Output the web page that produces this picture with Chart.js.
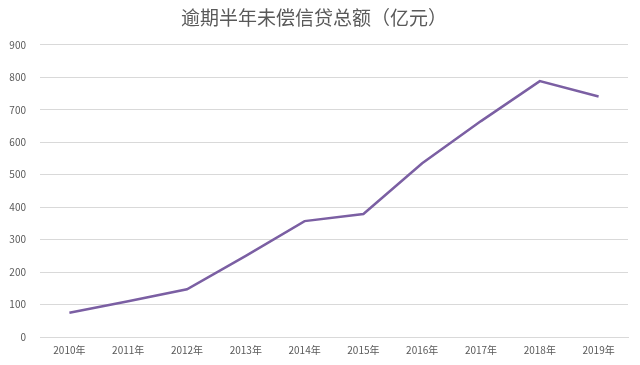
<!DOCTYPE html>
<html>
<head>
<meta charset="utf-8">
<script src="https://cdn.jsdelivr.net/npm/chart.js@4/dist/chart.umd.min.js"></script>
<style>
html,body{margin:0;padding:0;background:#fff;}
#wrap{width:640px;height:365px;}
</style>
</head>
<body>
<div id="wrap"><canvas id="c"></canvas></div>
<script>
const categories = ['2010年','2011年','2012年','2013年','2014年','2015年','2016年','2017年','2018年','2019年'];
const values = [75, 110, 147, 250, 357, 379, 535, 665, 788, 741];
const titleText = '逾期半年未偿信贷总额（亿元）';
const yTicks = {min: 0, max: 900, step: 100};

new Chart(document.getElementById('c'), {
  type: 'line',
  data: {
    labels: categories,
    datasets: [{
      data: values,
      borderColor: '#7b5fa3',
      borderWidth: 2.5,
      pointRadius: 0,
      tension: 0,
      fill: false
    }]
  },
  options: {
    responsive: true,
    maintainAspectRatio: false,
    animation: false,
    layout: {padding: {left: 0, right: 12, top: 0, bottom: 0}},
    plugins: {
      legend: {display: false},
      tooltip: {enabled: false},
      title: {
        display: true,
        text: titleText,
        color: '#595959',
        font: {family: '"Noto Sans CJK SC", sans-serif', size: 19, weight: 'normal', lineHeight: 1.2},
        padding: {top: 6, bottom: 16}
      }
    },
    scales: {
      x: {
        offset: true,
        grid: {display: false, drawTicks: false},
        border: {display: true, color: '#d9d9d9'},
        ticks: {color: '#595959', font: {family: '"Noto Sans CJK SC", sans-serif', size: 10}, padding: 7, maxRotation: 0, autoSkip: false},
        afterFit: s => { s.height = 28; }
      },
      y: {
        min: yTicks.min,
        max: yTicks.max,
        grid: {color: '#d9d9d9', drawTicks: false},
        border: {display: false},
        ticks: {stepSize: yTicks.step, color: '#595959', font: {family: '"Noto Sans CJK SC", sans-serif', size: 10}, padding: 14},
        afterFit: s => { s.width = 40; }
      }
    }
  }
});
</script>
</body>
</html>
